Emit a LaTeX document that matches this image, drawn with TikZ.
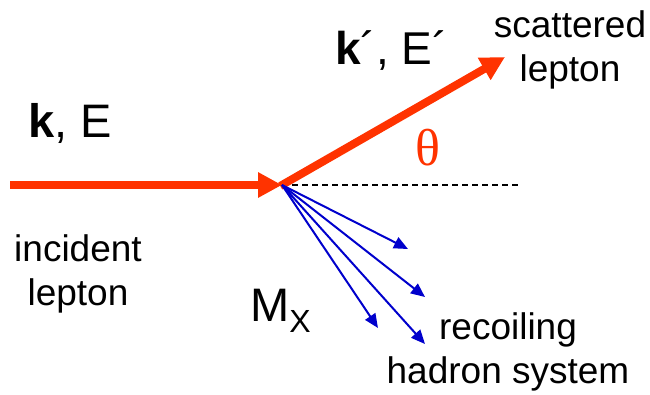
\documentclass[tikz,border=0pt]{standalone}
\usepackage{fontspec}
\setmainfont{Liberation Sans}
\newfontfamily\thetafont{Liberation Serif}
\usetikzlibrary{arrows.meta}
\definecolor{lred}{HTML}{FF3300}
\definecolor{hblue}{HTML}{0000CC}
\begin{document}
\begin{tikzpicture}[x=1pt,y=1pt,
  lepton/.style={draw=lred,line width=8pt,-{Triangle[length=24pt,width=24pt]}},
  hadron/.style={draw=hblue,line width=2pt,-{Triangle[length=14pt,width=12pt]}},
  lbl/.style={inner sep=0pt,font=\fontsize{37}{44}\selectfont,align=center},
  big/.style={inner sep=0pt,font=\fontsize{47}{54}\selectfont}]
\useasboundingbox (0,0) rectangle (650,394);
\coordinate (a) at (10,209);
\coordinate (v) at (282,209);
\coordinate (b) at (505,337);
\coordinate (d) at (520,209);
\coordinate (h1) at (408,145);
\coordinate (h2) at (425,97);
\coordinate (h3) at (378,66);
\coordinate (h4) at (425,50);
\draw[line width=1.2pt,dash pattern=on 6pt off 4pt] (v) -- (d);
\draw[lepton] (a) -- (v);
\draw[lepton,shorten <=-2pt] (v) -- (b);
\foreach \t in {h1,h2,h3,h4} \draw[hadron] (v) -- (\t);
\node[big,anchor=base west] (kE) at (28,256) {\textbf{k}, E};
\node[big,anchor=base west,font=\fontsize{46}{54}\selectfont] (kpEp) at (335,329) {\textbf{k}´, E´};
\node[lbl,anchor=north] (scat) at (570,384) {scattered\\lepton};
\node[lbl,anchor=north] (inc) at (78,160) {incident\\lepton};
\node[lbl,anchor=north] (rec) at (508,82) {recoiling\\hadron system};
\node[inner sep=0pt,anchor=base west,font=\fontsize{47}{54}\selectfont] (mx) at (250,73) {M\raisebox{-11pt}{\fontsize{32}{36}\selectfont X}};
\node[inner sep=0pt,text=lred,font=\fontsize{52}{58}\selectfont\thetafont] (th) at (428,246) {θ};
\end{tikzpicture}
\end{document}
